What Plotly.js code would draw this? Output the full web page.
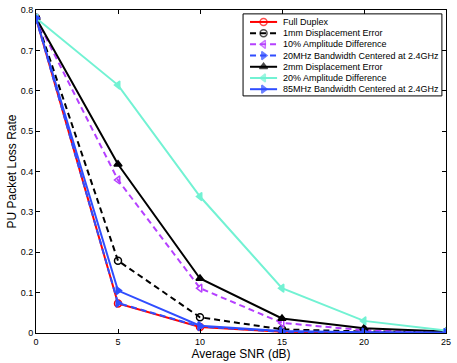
<!DOCTYPE html>
<html>
<head>
<meta charset="utf-8">
<script src="https://cdn.plot.ly/plotly-3.0.1.min.js"></script>
<style>
  body { margin: 0; background: #fff; }
  #graph { width: 457px; height: 363px; }
</style>
</head>
<body>
<div id="graph"></div>
<script>
// SNR values (dB)
var snr = [0, 5, 10, 15, 20, 25];

// PU packet loss rate per configuration
var fullDuplex = [0.78, 0.073, 0.015, 0.003, 0.001, 0.000];
var disp1mm    = [0.78, 0.179, 0.039, 0.009, 0.004, 0.002];
var amp10      = [0.78, 0.379, 0.111, 0.025, 0.007, 0.002];
var bw20       = [0.78, 0.074, 0.016, 0.003, 0.001, 0.000];
var disp2mm    = [0.78, 0.418, 0.135, 0.036, 0.012, 0.004];
var amp20      = [0.78, 0.614, 0.338, 0.111, 0.030, 0.006];
var bw85       = [0.78, 0.105, 0.018, 0.005, 0.002, 0.001];

var names = [
    "Full Duplex",
    "1mm Displacement Error",
    "10% Amplitude Difference",
    "20MHz Bandwidth Centered at 2.4GHz",
    "2mm Displacement Error",
    "20% Amplitude Difference",
    "85MHz Bandwidth Centered at 2.4GHz"
];
var series  = [fullDuplex, disp1mm, amp10, bw20, disp2mm, amp20, bw85];
var colors  = ['#ff0000', '#000000', '#b540ff', '#2f4dff', '#000000', '#72f2d3', '#2f4dff'];
var dashes  = ['solid', '6px,4px', '6px,4px', '6px,4px', 'solid', 'solid', 'solid'];
var symbols = ['circle-open', 'circle-open', 'triangle-left-open', 'triangle-right',
               'triangle-up', 'triangle-left', 'triangle-right'];

var data = [];
for (var i = 0; i < series.length; i++) {
    data.push({
        x: snr,
        y: series[i],
        name: names[i],
        type: 'scatter',
        mode: 'lines+markers',
        showlegend: false,
        line: {color: colors[i], width: 2, dash: dashes[i]},
        marker: {symbol: symbols[i], size: 7, color: colors[i],
                 line: {color: colors[i], width: 1.5}}
    });
}

// hand-built legend (Matlab style, tighter than plotly's own)
var legTop = 0.963, legStep = 0.0347;
var annotations = [];
for (var j = 0; j < names.length; j++) {
    var ly = legTop - j * legStep;
    data.push({
        x: [0.522, 0.555, 0.588],
        y: [ly, ly, ly],
        xaxis: 'x2', yaxis: 'y2',
        type: 'scatter',
        mode: 'lines+markers',
        showlegend: false,
        hoverinfo: 'skip',
        line: {color: colors[j], width: 2, dash: dashes[j]},
        marker: {symbol: symbols[j], size: [0, 7, 0], color: colors[j],
                 line: {color: colors[j], width: 1.5}}
    });
    annotations.push({
        x: 0.598, y: ly, xref: 'paper', yref: 'paper',
        xanchor: 'left', yanchor: 'middle',
        text: names[j], showarrow: false,
        font: {size: 9, color: '#000'}
    });
}

var layout = {
    width: 457,
    height: 363,
    margin: {l: 36, r: 11, t: 10, b: 30},
    paper_bgcolor: '#ffffff',
    plot_bgcolor: '#ffffff',
    font: {family: 'Liberation Sans, Arial, sans-serif', color: '#000', size: 9},
    showlegend: false,
    annotations: annotations,
    shapes: [{
        type: 'rect', xref: 'paper', yref: 'paper', layer: 'below',
        x0: 0.505, x1: 0.990, y0: 0.734, y1: 0.988,
        fillcolor: '#ffffff', line: {color: '#000', width: 1}
    }],
    xaxis: {
        range: [0, 25],
        dtick: 5,
        ticks: 'inside',
        ticklen: 4,
        tickcolor: '#000',
        showgrid: false,
        zeroline: false,
        showline: true,
        linecolor: '#000',
        linewidth: 1,
        mirror: 'allticks',
        title: {text: 'Average SNR (dB)', font: {size: 12}, standoff: 3}
    },
    yaxis: {
        range: [0, 0.8],
        dtick: 0.1,
        ticks: 'inside',
        ticklen: 4,
        tickcolor: '#000',
        showgrid: false,
        zeroline: false,
        showline: true,
        linecolor: '#000',
        linewidth: 1,
        mirror: 'allticks',
        title: {text: 'PU Packet Loss Rate', font: {size: 12}, standoff: 1}
    },
    xaxis2: {range: [0, 1], overlaying: 'x', visible: false, fixedrange: true},
    yaxis2: {range: [0, 1], overlaying: 'y', visible: false, fixedrange: true}
};

Plotly.newPlot('graph', data, layout, {displayModeBar: false, staticPlot: true});
</script>
</body>
</html>
